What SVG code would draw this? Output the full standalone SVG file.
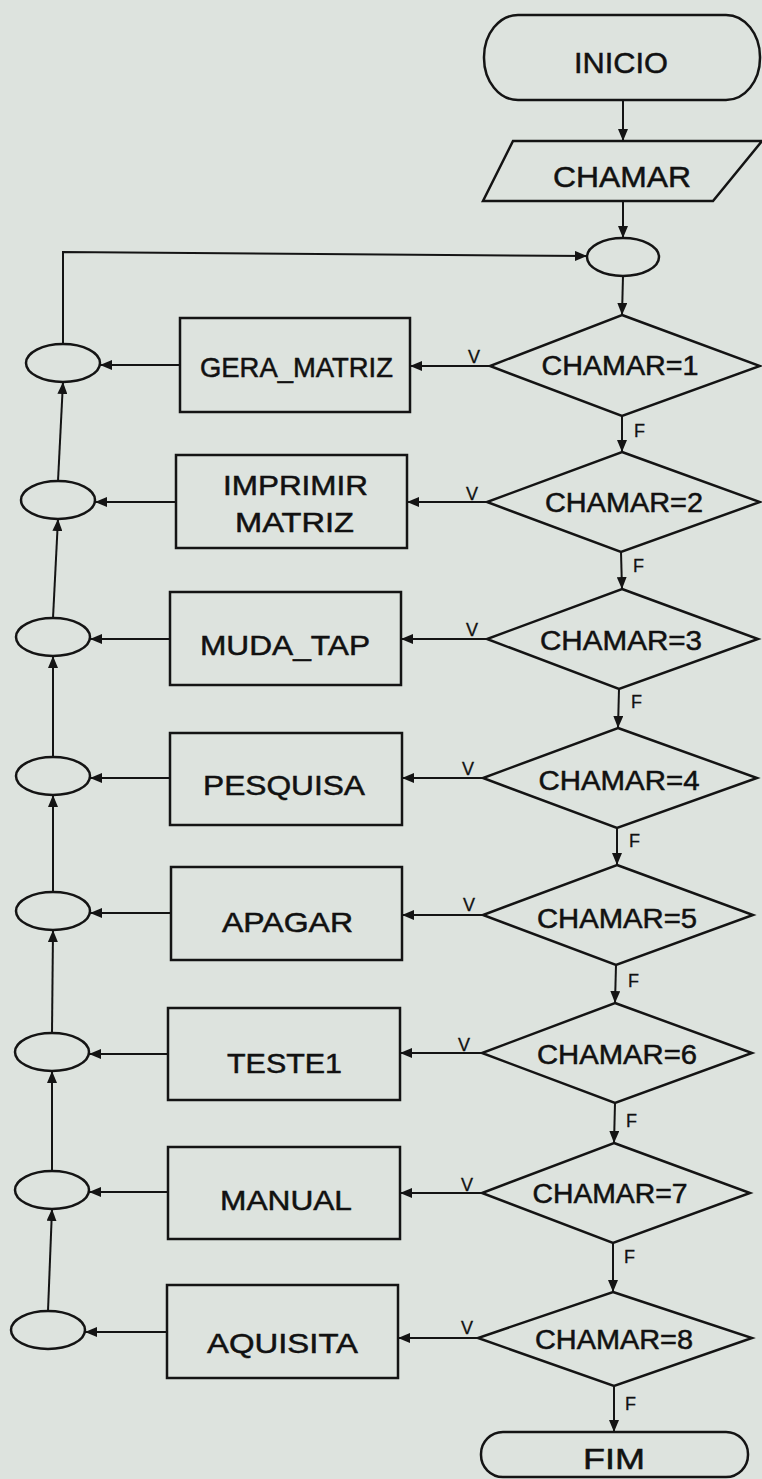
<svg xmlns="http://www.w3.org/2000/svg" width="762" height="1479" viewBox="0 0 762 1479">
  <style>
    .shape { fill: none; stroke: #141414; stroke-width: 2.5; stroke-linejoin: miter; }
    .conn { fill: none; stroke: #141414; stroke-width: 2; }
    .lbl { font-family: "Liberation Sans", Arial, sans-serif; fill: #111; stroke: #111; stroke-width: 0.5; text-anchor: middle; }
    .big { font-size: 30px; }
    .box { font-size: 28px; }
    .cond { font-size: 27px; }
    .small { font-family: "Liberation Sans", Arial, sans-serif; fill: #111; stroke: #111; stroke-width: 0.3; font-size: 18px; }
  </style>
  <defs>
    <marker id="arrow" markerUnits="userSpaceOnUse" markerWidth="13" markerHeight="10" refX="12" refY="5" orient="auto">
      <path d="M0,0 L12,5 L0,10 Z" fill="#141414"/>
    </marker>
  </defs>

  <rect x="0" y="0" width="762" height="1479" fill="#dde3de"/>

  <!-- start / end terminators -->
  <g id="inicio">
    <rect class="shape" x="484" y="15" width="276" height="85" rx="34" ry="42"/>
    <text class="lbl big" x="621" y="73" textLength="94" lengthAdjust="spacingAndGlyphs">INICIO</text>
  </g>
  <g id="entrada-chamar">
    <polygon class="shape" points="513,141 762,141 713,201 483,201"/>
    <text class="lbl big" x="622" y="187" textLength="138" lengthAdjust="spacingAndGlyphs">CHAMAR</text>
  </g>
  <g id="juncao-topo">
    <ellipse class="shape" cx="623" cy="257" rx="36" ry="19"/>
  </g>
  <g id="fim">
    <rect class="shape" x="481" y="1432" width="267" height="45" rx="22" ry="22"/>
    <text class="lbl big" x="614" y="1469" textLength="62" lengthAdjust="spacingAndGlyphs">FIM</text>
  </g>

  <!-- decisions -->
  <g id="decisao-1">
    <polygon class="shape" points="622,315 760,366 622,416 490,366"/>
    <text class="lbl cond" x="620" y="375" textLength="157" lengthAdjust="spacingAndGlyphs">CHAMAR=1</text>
  </g>
  <g id="decisao-2">
    <polygon class="shape" points="622,452 760,502 621,552 487,502"/>
    <text class="lbl cond" x="624" y="512" textLength="158" lengthAdjust="spacingAndGlyphs">CHAMAR=2</text>
  </g>
  <g id="decisao-3">
    <polygon class="shape" points="622,589 758,639 619,689 487,639"/>
    <text class="lbl cond" x="621" y="650" textLength="162" lengthAdjust="spacingAndGlyphs">CHAMAR=3</text>
  </g>
  <g id="decisao-4">
    <polygon class="shape" points="618,728 757,778 617,828 483,778"/>
    <text class="lbl cond" x="619" y="790" textLength="161" lengthAdjust="spacingAndGlyphs">CHAMAR=4</text>
  </g>
  <g id="decisao-5">
    <polygon class="shape" points="617,865 753,915 616,965 483,915"/>
    <text class="lbl cond" x="617" y="928" textLength="160" lengthAdjust="spacingAndGlyphs">CHAMAR=5</text>
  </g>
  <g id="decisao-6">
    <polygon class="shape" points="615,1003 752,1053 615,1103 482,1053"/>
    <text class="lbl cond" x="617" y="1064" textLength="160" lengthAdjust="spacingAndGlyphs">CHAMAR=6</text>
  </g>
  <g id="decisao-7">
    <polygon class="shape" points="614,1143 750,1193 613,1243 482,1193"/>
    <text class="lbl cond" x="610" y="1203" textLength="155" lengthAdjust="spacingAndGlyphs">CHAMAR=7</text>
  </g>
  <g id="decisao-8">
    <polygon class="shape" points="613,1292 752,1338 614,1386 478,1338"/>
    <text class="lbl cond" x="614" y="1349" textLength="158" lengthAdjust="spacingAndGlyphs">CHAMAR=8</text>
  </g>

  <!-- subroutine calls -->
  <g id="gera-matriz">
    <rect class="shape" x="180" y="318" width="230" height="94"/>
    <text class="lbl box" x="296.5" y="377" textLength="193" lengthAdjust="spacingAndGlyphs">GERA_MATRIZ</text>
  </g>
  <g id="imprimir-matriz">
    <rect class="shape" x="176" y="455" width="231" height="93"/>
    <text class="lbl box" x="295.5" y="495" textLength="145" lengthAdjust="spacingAndGlyphs">IMPRIMIR</text>
    <text class="lbl box" x="294.5" y="532" textLength="119" lengthAdjust="spacingAndGlyphs">MATRIZ</text>
  </g>
  <g id="muda-tap">
    <rect class="shape" x="170" y="592" width="231" height="93"/>
    <text class="lbl box" x="285" y="655" textLength="170" lengthAdjust="spacingAndGlyphs">MUDA_TAP</text>
  </g>
  <g id="pesquisa">
    <rect class="shape" x="170" y="733" width="232" height="92"/>
    <text class="lbl box" x="284" y="795" textLength="162" lengthAdjust="spacingAndGlyphs">PESQUISA</text>
  </g>
  <g id="apagar">
    <rect class="shape" x="171" y="867" width="231" height="93"/>
    <text class="lbl box" x="287.5" y="932" textLength="131" lengthAdjust="spacingAndGlyphs">APAGAR</text>
  </g>
  <g id="teste1">
    <rect class="shape" x="168" y="1008" width="232" height="92"/>
    <text class="lbl box" x="284.5" y="1073" textLength="115" lengthAdjust="spacingAndGlyphs">TESTE1</text>
  </g>
  <g id="manual">
    <rect class="shape" x="168" y="1147" width="232" height="92"/>
    <text class="lbl box" x="286" y="1210" textLength="132" lengthAdjust="spacingAndGlyphs">MANUAL</text>
  </g>
  <g id="aquisita">
    <rect class="shape" x="167" y="1285" width="231" height="93"/>
    <text class="lbl box" x="282.5" y="1353" textLength="151" lengthAdjust="spacingAndGlyphs">AQUISITA</text>
  </g>

  <!-- return junctions -->
  <g id="juncao-1"><ellipse class="shape" cx="63" cy="363" rx="37" ry="19"/></g>
  <g id="juncao-2"><ellipse class="shape" cx="58" cy="500" rx="37" ry="19"/></g>
  <g id="juncao-3"><ellipse class="shape" cx="53" cy="637" rx="37" ry="19"/></g>
  <g id="juncao-4"><ellipse class="shape" cx="53" cy="776" rx="37" ry="19"/></g>
  <g id="juncao-5"><ellipse class="shape" cx="53" cy="911" rx="37" ry="19"/></g>
  <g id="juncao-6"><ellipse class="shape" cx="52" cy="1052" rx="37" ry="19"/></g>
  <g id="juncao-7"><ellipse class="shape" cx="52" cy="1190" rx="37" ry="19"/></g>
  <g id="juncao-8"><ellipse class="shape" cx="48" cy="1330" rx="37" ry="19"/></g>

  <!-- connectors -->
  <g id="connectors">
    <!-- main spine -->
    <path class="conn" d="M623,100 L623,141" marker-end="url(#arrow)"/>
    <path class="conn" d="M623,201 L623,238" marker-end="url(#arrow)"/>
    <path class="conn" d="M623,276 L622,315" marker-end="url(#arrow)"/>
    <path class="conn" d="M622,416 L622,452" marker-end="url(#arrow)"/>
    <path class="conn" d="M621,552 L622,589" marker-end="url(#arrow)"/>
    <path class="conn" d="M619,689 L618,728" marker-end="url(#arrow)"/>
    <path class="conn" d="M617,828 L617,865" marker-end="url(#arrow)"/>
    <path class="conn" d="M616,965 L615,1003" marker-end="url(#arrow)"/>
    <path class="conn" d="M615,1103 L614,1143" marker-end="url(#arrow)"/>
    <path class="conn" d="M613,1243 L613,1292" marker-end="url(#arrow)"/>
    <path class="conn" d="M614,1386 L614,1432" marker-end="url(#arrow)"/>

    <!-- true branches into the calls -->
    <path class="conn" d="M490,366 L410,366" marker-end="url(#arrow)"/>
    <path class="conn" d="M487,502 L407,502" marker-end="url(#arrow)"/>
    <path class="conn" d="M487,639 L401,639" marker-end="url(#arrow)"/>
    <path class="conn" d="M483,778 L402,778" marker-end="url(#arrow)"/>
    <path class="conn" d="M483,915 L402,915" marker-end="url(#arrow)"/>
    <path class="conn" d="M482,1053 L400,1053" marker-end="url(#arrow)"/>
    <path class="conn" d="M482,1193 L400,1193" marker-end="url(#arrow)"/>
    <path class="conn" d="M478,1338 L398,1338" marker-end="url(#arrow)"/>

    <!-- calls into the return junctions -->
    <path class="conn" d="M180,365 L100,365" marker-end="url(#arrow)"/>
    <path class="conn" d="M176,502 L95,502" marker-end="url(#arrow)"/>
    <path class="conn" d="M170,639 L90,639" marker-end="url(#arrow)"/>
    <path class="conn" d="M170,778 L90,778" marker-end="url(#arrow)"/>
    <path class="conn" d="M171,913 L90,913" marker-end="url(#arrow)"/>
    <path class="conn" d="M168,1054 L89,1054" marker-end="url(#arrow)"/>
    <path class="conn" d="M168,1192 L89,1192" marker-end="url(#arrow)"/>
    <path class="conn" d="M167,1332 L85,1332" marker-end="url(#arrow)"/>

    <!-- return chain upwards -->
    <path class="conn" d="M58,481 L63,382" marker-end="url(#arrow)"/>
    <path class="conn" d="M53,618 L58,519" marker-end="url(#arrow)"/>
    <path class="conn" d="M53,757 L53,656" marker-end="url(#arrow)"/>
    <path class="conn" d="M53,892 L53,795" marker-end="url(#arrow)"/>
    <path class="conn" d="M52,1033 L53,930" marker-end="url(#arrow)"/>
    <path class="conn" d="M52,1171 L52,1071" marker-end="url(#arrow)"/>
    <path class="conn" d="M48,1311 L52,1209" marker-end="url(#arrow)"/>

    <!-- loop back to the top junction -->
    <path class="conn" d="M63,344 L63,252 L587,256" marker-end="url(#arrow)"/>

    <!-- branch labels -->
    <text class="small" x="468" y="363">V</text>
    <text class="small" x="466" y="500">V</text>
    <text class="small" x="466" y="636">V</text>
    <text class="small" x="462" y="775">V</text>
    <text class="small" x="463" y="911">V</text>
    <text class="small" x="458" y="1051">V</text>
    <text class="small" x="461" y="1191">V</text>
    <text class="small" x="461" y="1334">V</text>

    <text class="small" x="634" y="437">F</text>
    <text class="small" x="633" y="572">F</text>
    <text class="small" x="631" y="708">F</text>
    <text class="small" x="629" y="847">F</text>
    <text class="small" x="628" y="987">F</text>
    <text class="small" x="626" y="1127">F</text>
    <text class="small" x="624" y="1263">F</text>
    <text class="small" x="625" y="1410">F</text>
  </g>
</svg>
